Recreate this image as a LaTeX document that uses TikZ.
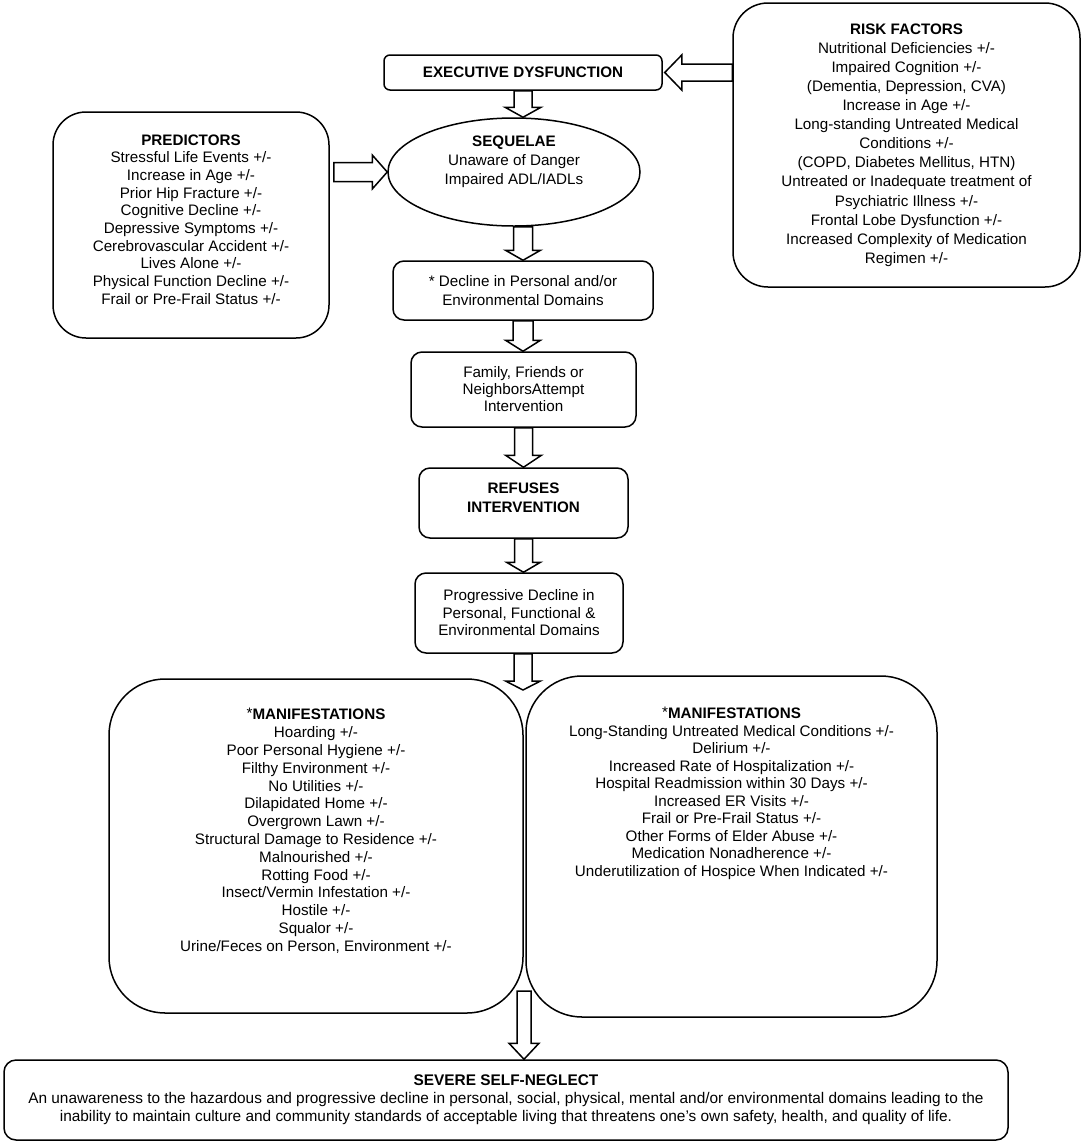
\documentclass[tikz,border=0pt]{standalone}
\usepackage{fontspec}
\setmainfont{Liberation Sans}
\usetikzlibrary{calc,shapes.geometric}
\tikzset{
  lw/.style={line width=1.5pt},
  box/.style={draw, lw, rounded corners=#1, inner sep=0pt, align=center, font=\fontsize{15.2}{17.7}\selectfont},
  box/.default=11pt,
  txt/.style={align=center, inner sep=0pt, font=\fontsize{15.2}{#1}\selectfont},
  txt/.default=17.7,
  blk/.style={draw, lw, fill=white, line join=miter},
}
\newcommand{\mkdownarrow}[5]{\draw[blk] let \p1=(#1), \p2=(#2) in
  (\x1-#3,\y1) -- (\x1-#3,\y2+#5) -- (\x1-#4,\y2+#5) -- (\x1,\y2) -- (\x1+#4,\y2+#5) -- (\x1+#3,\y2+#5) -- (\x1+#3,\y1) -- cycle;}
\begin{document}
\begin{tikzpicture}[x=1pt,y=1pt]
\useasboundingbox (0,0) rectangle (1084,-1144);

% boxes
\node[box=6pt, minimum width=278pt, minimum height=35pt] (exec) at (523,-72.5) {\textbf{EXECUTIVE DYSFUNCTION}};

\node[box=35pt, minimum width=347pt, minimum height=284pt, font=\fontsize{15.2}{19.1}\selectfont] (risk) at (906.5,-145)
 {\textbf{RISK FACTORS}\\Nutritional Deficiencies +/-\\Impaired Cognition +/-\\(Dementia, Depression, CVA)\\Increase in Age +/-\\Long-standing Untreated Medical\\Conditions +/-\\(COPD, Diabetes Mellitus, HTN)\\Untreated or Inadequate treatment of\\Psychiatric Illness +/-\\Frontal Lobe Dysfunction +/-\\Increased Complexity of Medication\\Regimen +/-};

\node[box=33pt, minimum width=276pt, minimum height=226pt] (pred) at (191,-225) {};
\node[txt] (predtxt) at (191,-219.5)
 {\textbf{PREDICTORS}\\Stressful Life Events +/-\\Increase in Age +/-\\Prior Hip Fracture +/-\\Cognitive Decline +/-\\Depressive Symptoms +/-\\Cerebrovascular Accident +/-\\Lives Alone +/-\\Physical Function Decline +/-\\Frail or Pre-Frail Status +/-};

\node[draw, lw, ellipse, minimum width=252pt, minimum height=108pt, inner sep=0pt] (seq) at (514,-172) {};
\node[txt=19] (seqtxt) at (514,-162) {\textbf{SEQUELAE}\\Unaware of Danger\\Impaired ADL/IADLs};

\node[box, minimum width=260pt, minimum height=59pt, font=\fontsize{15.2}{19}\selectfont] (decl) at (523,-290.5)
 {* Decline in Personal and/or\\Environmental Domains};

\node[box, minimum width=225pt, minimum height=75pt, font=\fontsize{15.2}{17}\selectfont] (family) at (523.5,-389.5)
 {Family, Friends or\\NeighborsAttempt\\Intervention};

\node[box, minimum width=209pt, minimum height=70pt] (ref) at (523.5,-503) {};
\node[txt=19] (reftxt) at (523.5,-497.5) {\textbf{REFUSES}\\\textbf{INTERVENTION}};

\node[box, minimum width=208pt, minimum height=80pt, font=\fontsize{15.2}{17.5}\selectfont] (prog) at (519,-613)
 {Progressive Decline in\\Personal, Functional \&\\Environmental Domains};

\node[box=56pt, minimum width=414pt, minimum height=334pt] (manL) at (316,-846) {};
\node[txt=17.8] (manLtxt) at (316,-830.5)
 {\raisebox{1.5pt}{*}\textbf{MANIFESTATIONS}\\Hoarding +/-\\Poor Personal Hygiene +/-\\Filthy Environment +/-\\No Utilities +/-\\Dilapidated Home +/-\\Overgrown Lawn +/-\\Structural Damage to Residence +/-\\Malnourished +/-\\Rotting Food +/-\\Insect/Vermin Infestation +/-\\Hostile +/-\\Squalor +/-\\Urine/Feces on Person, Environment +/-};

\node[box=56pt, minimum width=411pt, minimum height=341pt] (manR) at (731.5,-846.5) {};
\node[txt=17.5] (manRtxt) at (731.5,-793)
 {\raisebox{1.5pt}{*}\textbf{MANIFESTATIONS}\\Long-Standing Untreated Medical Conditions +/-\\Delirium +/-\\Increased Rate of Hospitalization +/-\\Hospital Readmission within 30 Days +/-\\Increased ER Visits +/-\\Frail or Pre-Frail Status +/-\\Other Forms of Elder Abuse +/-\\Medication Nonadherence +/-\\Underutilization of Hospice When Indicated +/-};

\node[box=12pt, minimum width=1004pt, minimum height=80pt, font=\fontsize{15.4}{18}\selectfont] (bottom) at (506,-1100)
 {\textbf{SEVERE SELF-NEGLECT}\\An unawareness to the hazardous and progressive decline in personal, social, physical, mental and/or environmental domains leading to the\\inability to maintain culture and community standards of acceptable living that threatens one’s own safety, health, and quality of life.};

\coordinate (mhead) at (523,-690);
\coordinate (mtail) at (524,-991);

% block arrows
\draw[blk] let \p1=(risk.west |- exec.east), \p2=(exec.east) in
  (\x1,\y1+8.5) -- (\x2+19,\y1+8.5) -- (\x2+19,\y1+17.5) -- (\x2+2,\y1) -- (\x2+19,\y1-17.5) -- (\x2+19,\y1-8.5) -- (\x1,\y1-8.5) -- cycle;
\draw[blk] let \p1=(pred.east |- seq.west), \p2=(seq.west) in
  (\x1+4,\y1+9.5) -- (\x2-15,\y1+9.5) -- (\x2-15,\y1+17) -- (\x2,\y1) -- (\x2-15,\y1-17) -- (\x2-15,\y1-9.5) -- (\x1+4,\y1-9.5) -- cycle;

\mkdownarrow{exec.south}{seq.north}{9}{18}{10}
\mkdownarrow{seq.south -| decl.north}{decl.north}{9.5}{17.5}{10}
\mkdownarrow{decl.south}{family.north}{10}{17.5}{11}
\mkdownarrow{family.south}{ref.north}{9}{18}{12}
\mkdownarrow{ref.south}{prog.north}{9}{17}{10}
\mkdownarrow{prog.south -| mhead}{mhead}{9}{17.5}{9}
\mkdownarrow{mtail}{bottom.north}{7}{15}{16}
\end{tikzpicture}
\end{document}
